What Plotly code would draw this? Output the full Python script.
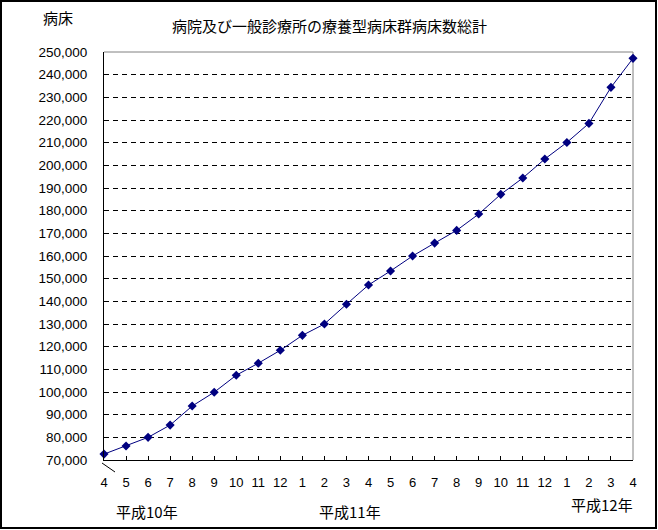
import plotly.graph_objects as go

months = ["4", "5", "6", "7", "8", "9", "10", "11", "12", "1", "2", "3",
          "4", "5", "6", "7", "8", "9", "10", "11", "12", "1", "2", "3", "4"]
beds = [72600, 76200, 80000, 85400, 93800, 99900, 107400, 112700, 118400,
        125000, 130000, 138700, 147200, 153400, 160000, 165700, 171300,
        178500, 187200, 194400, 202800, 210100, 218500, 234400, 247200]
y_ticks = list(range(70000, 250001, 10000))
era_labels = ["平成10年", "平成11年", "平成12年"]

xi = list(range(len(months)))

W, H = 658, 530
L, R, T, B = 104, 25, 52, 70
pw, ph = W - L - R, H - T - B


def px(x):
    return (x - L) / pw


def py(y):
    return (H - B - y) / ph


jp = "Noto Sans CJK JP"
num = "Liberation Sans, Arial, sans-serif"

fig = go.Figure()
fig.add_trace(go.Scatter(
    x=xi, y=beds, mode="lines+markers",
    line=dict(color="#000080", width=1),
    marker=dict(symbol="diamond", size=7, color="#000080"),
    cliponaxis=False, showlegend=False, hoverinfo="y"))

fig.update_layout(
    width=W, height=H,
    margin=dict(l=L, r=R, t=T, b=B),
    paper_bgcolor="white", plot_bgcolor="white",
    xaxis=dict(
        range=[0, len(months) - 1], tickvals=xi, ticktext=months,
        showgrid=False, zeroline=False,
        showline=True, linecolor="black", linewidth=1,
        ticks="inside", ticklen=4, tickcolor="black", tickwidth=1,
        ticklabelstandoff=10,
        tickfont=dict(family=num, size=13, color="black")),
    yaxis=dict(
        range=[70000, 250000], tickvals=y_ticks, tickformat=",",
        showgrid=True, gridcolor="black", gridwidth=1, griddash="5px,4px",
        zeroline=False,
        showline=True, linecolor="black", linewidth=1,
        ticks="", ticklabelstandoff=13,
        tickfont=dict(family=num, size=13.5, color="black")),
    shapes=[
        dict(type="line", xref="paper", yref="paper", x0=0, x1=1, y0=1, y1=1,
             line=dict(color="#808080", width=1), layer="above"),
        dict(type="line", xref="paper", yref="paper", x0=1, x1=1, y0=0, y1=1,
             line=dict(color="#808080", width=1), layer="below"),
        dict(type="line", xref="paper", yref="paper",
             x0=px(102), x1=px(115), y0=py(463), y1=py(472),
             line=dict(color="black", width=1)),
        dict(type="rect", xref="paper", yref="paper",
             x0=px(1), x1=px(656), y0=py(528), y1=py(1),
             line=dict(color="black", width=2), fillcolor="rgba(0,0,0,0)"),
    ],
    annotations=[
        dict(text="病院及び一般診療所の療養型病床群病床数総計", xref="paper", yref="paper",
             x=px(329), y=py(25), showarrow=False, xanchor="center", yanchor="middle",
             font=dict(family=jp, size=15, color="black")),
        dict(text="病床", xref="paper", yref="paper",
             x=px(58), y=py(17), showarrow=False, xanchor="center", yanchor="middle",
             font=dict(family=jp, size=15, color="black")),
        dict(text=era_labels[0], xref="paper", yref="paper",
             x=px(147), y=py(511), showarrow=False, xanchor="center", yanchor="middle",
             font=dict(family=jp, size=15, color="black")),
        dict(text=era_labels[1], xref="paper", yref="paper",
             x=px(350), y=py(511), showarrow=False, xanchor="center", yanchor="middle",
             font=dict(family=jp, size=15, color="black")),
        dict(text=era_labels[2], xref="paper", yref="paper",
             x=px(602), y=py(504), showarrow=False, xanchor="center", yanchor="middle",
             font=dict(family=jp, size=15, color="black")),
    ],
)

fig.write_html("out.html", config={"displayModeBar": False},
               post_script="document.body.style.margin='0';document.body.style.overflow='hidden';")
